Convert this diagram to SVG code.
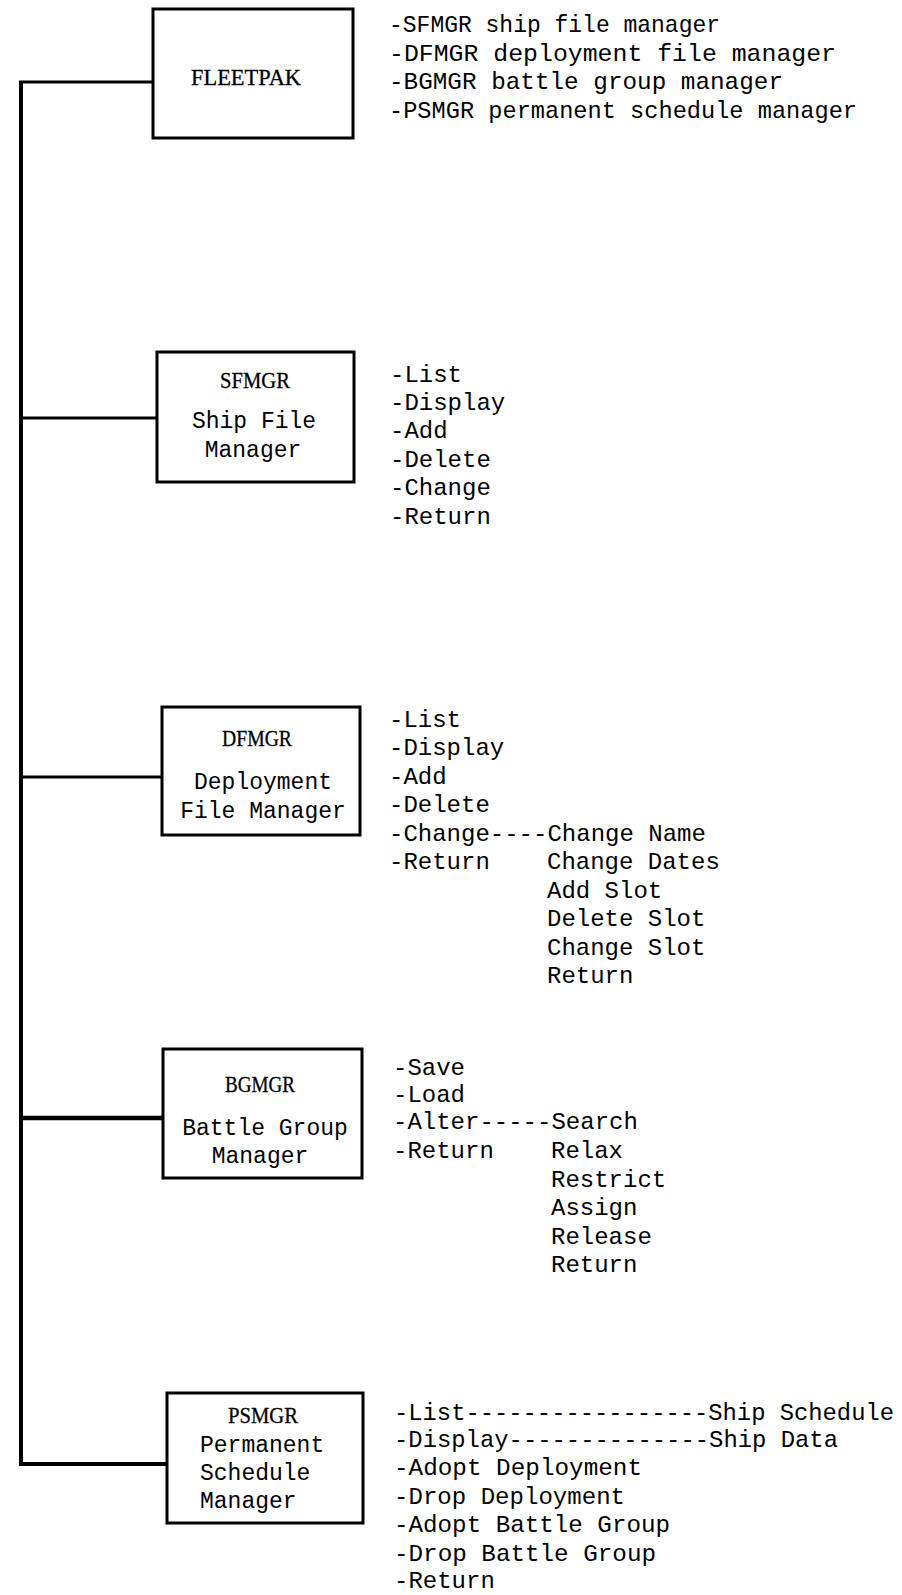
<svg xmlns="http://www.w3.org/2000/svg" width="902" height="1595" viewBox="0 0 902 1595">
<style>
.box{fill:#fff;stroke:#000;stroke-width:3}
.ln{stroke:#000;stroke-width:3;fill:none}
.t{font-family:"Liberation Mono",monospace;font-size:24px;fill:#000}
.b{font-family:"Liberation Mono",monospace;font-size:23px;fill:#000}
.h{font-family:"Liberation Serif",serif;font-size:23px;fill:#000;stroke:#000;stroke-width:0.3}
.c{text-anchor:middle}
</style>
<rect width="902" height="1595" fill="#fff"/>
<g id="connectors">
<line class="ln" x1="21" y1="81" x2="21" y2="1465" style="stroke-width:4"/>
<line class="ln" x1="19" y1="82" x2="153" y2="82"/>
<line class="ln" x1="21" y1="418" x2="157" y2="418"/>
<line class="ln" x1="21" y1="777" x2="162" y2="777"/>
<line class="ln" x1="21" y1="1118" x2="163" y2="1118" style="stroke-width:4.5"/>
<line class="ln" x1="19" y1="1464" x2="167" y2="1464" style="stroke-width:4"/>
</g>
<g id="fleetpak">
<rect class="box" x="153" y="9" width="200" height="129"/>
<text class="h c" x="246" y="85" textLength="110" lengthAdjust="spacingAndGlyphs">FLEETPAK</text>
<text class="t" x="389" y="32" textLength="331" lengthAdjust="spacingAndGlyphs">-SFMGR ship file manager</text>
<text class="t" x="389" y="61" textLength="447" lengthAdjust="spacingAndGlyphs">-DFMGR deployment file manager</text>
<text class="t" x="389" y="89" textLength="394" lengthAdjust="spacingAndGlyphs">-BGMGR battle group manager</text>
<text class="t" x="389" y="118" textLength="468" lengthAdjust="spacingAndGlyphs">-PSMGR permanent schedule manager</text>
</g>
<g id="sfmgr">
<rect class="box" x="157" y="352" width="197" height="130"/>
<text class="h c" x="255" y="388" textLength="70" lengthAdjust="spacingAndGlyphs">SFMGR</text>
<text class="b c" x="254" y="428">Ship File</text>
<text class="b c" x="253" y="457">Manager</text>
<text class="t" x="390" y="382">-List</text>
<text class="t" x="390" y="410">-Display</text>
<text class="t" x="390" y="438">-Add</text>
<text class="t" x="390" y="467">-Delete</text>
<text class="t" x="390" y="495">-Change</text>
<text class="t" x="390" y="524">-Return</text>
</g>
<g id="dfmgr">
<rect class="box" x="162" y="707" width="198" height="128"/>
<text class="h c" x="257" y="746" textLength="70" lengthAdjust="spacingAndGlyphs">DFMGR</text>
<text class="b c" x="263" y="789">Deployment</text>
<text class="b c" x="263" y="818">File Manager</text>
<text class="t" x="389" y="727">-List</text>
<text class="t" x="389" y="755">-Display</text>
<text class="t" x="389" y="784">-Add</text>
<text class="t" x="389" y="812">-Delete</text>
<text class="t" x="389" y="841">-Change----Change Name</text>
<text class="t" x="389" y="869">-Return</text>
<text class="t" x="547" y="869">Change Dates</text>
<text class="t" x="547" y="898">Add Slot</text>
<text class="t" x="547" y="926">Delete Slot</text>
<text class="t" x="547" y="955">Change Slot</text>
<text class="t" x="547" y="983">Return</text>
</g>
<g id="bgmgr">
<rect class="box" x="163" y="1049" width="199" height="129"/>
<text class="h c" x="260" y="1092" textLength="70" lengthAdjust="spacingAndGlyphs">BGMGR</text>
<text class="b c" x="265" y="1135">Battle Group</text>
<text class="b c" x="260" y="1163">Manager</text>
<text class="t" x="393" y="1075">-Save</text>
<text class="t" x="393" y="1102">-Load</text>
<text class="t" x="393" y="1129">-Alter-----Search</text>
<text class="t" x="393" y="1158">-Return</text>
<text class="t" x="551" y="1158">Relax</text>
<text class="t" x="551" y="1187">Restrict</text>
<text class="t" x="551" y="1215">Assign</text>
<text class="t" x="551" y="1244">Release</text>
<text class="t" x="551" y="1272">Return</text>
</g>
<g id="psmgr">
<rect class="box" x="167" y="1393" width="196" height="130"/>
<text class="h c" x="263" y="1423" textLength="70" lengthAdjust="spacingAndGlyphs">PSMGR</text>
<text class="b" x="200" y="1452">Permanent</text>
<text class="b" x="200" y="1480">Schedule</text>
<text class="b" x="200" y="1508">Manager</text>
<text class="t" x="394" y="1420" textLength="500" lengthAdjust="spacingAndGlyphs">-List-----------------Ship Schedule</text>
<text class="t" x="394" y="1447" textLength="444" lengthAdjust="spacingAndGlyphs">-Display--------------Ship Data</text>
<text class="t" x="394" y="1475" textLength="248" lengthAdjust="spacingAndGlyphs">-Adopt Deployment</text>
<text class="t" x="394" y="1504" textLength="231" lengthAdjust="spacingAndGlyphs">-Drop Deployment</text>
<text class="t" x="394" y="1532" textLength="276" lengthAdjust="spacingAndGlyphs">-Adopt Battle Group</text>
<text class="t" x="394" y="1561" textLength="262" lengthAdjust="spacingAndGlyphs">-Drop Battle Group</text>
<text class="t" x="394" y="1588">-Return</text>
</g>
</svg>
